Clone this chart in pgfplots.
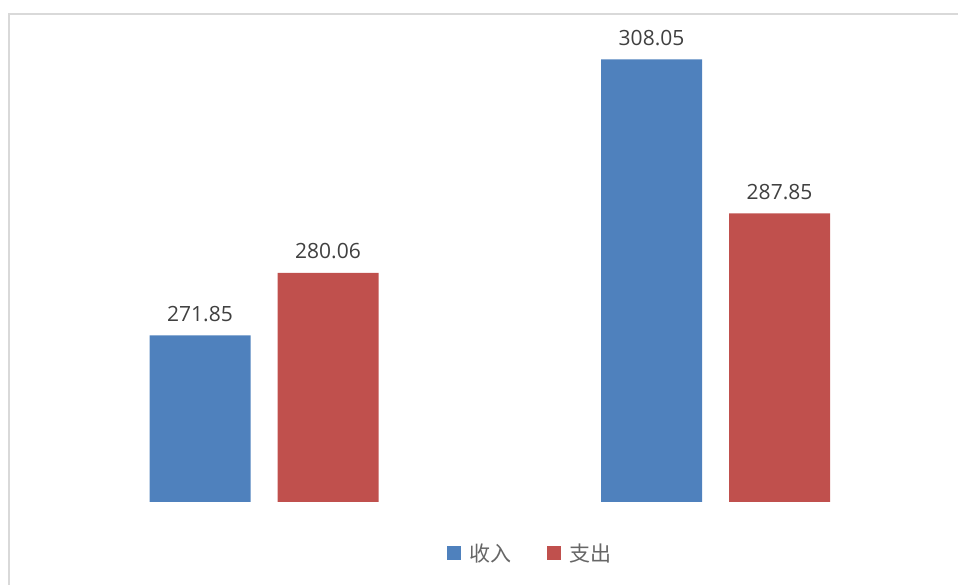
\documentclass[border=0pt]{standalone}
\usepackage{pgfplots}
\pgfplotsset{compat=1.18}
\usepackage{fontspec}
\setmainfont{Open Sans}
\newfontfamily\cjk{Noto Sans CJK SC}
\definecolor{bblue}{HTML}{4F81BD}
\definecolor{bred}{HTML}{C0504D}
\definecolor{lbl}{HTML}{404040}
\definecolor{frame}{HTML}{D9D9D9}
\begin{document}
\begin{tikzpicture}
\useasboundingbox (0pt,0pt) rectangle (958pt,585pt);
\draw[frame, line width=2pt] (9pt,0pt) -- (9pt,571pt) -- (958pt,571pt);
\begin{axis}[
  at={(9pt,83pt)}, anchor=south west,
  scale only axis, width=949pt, height=488pt,
  xmin=-0.5648, xmax=1.537, ymin=250, ymax=314,
  axis lines=none,
  ybar, bar width=101pt,
  clip mode=individual,
  /pgf/number format/assume math mode=true,
  nodes near coords,
  every node near coord/.append style={font=\fontsize{21}{21}\selectfont, text=lbl, yshift=10pt},
  nodes near coords={\pgfmathprintnumber[fixed,fixed zerofill,precision=2]{\pgfplotspointmeta}},
  legend columns=2,
  legend style={draw=none, fill=none, at={(0.549,-0.1045)}, anchor=center,
    font=\cjk\fontsize{21}{21}\selectfont, text=lbl!80,
    /tikz/every odd column/.append style={column sep=6pt},
    /tikz/every even column/.append style={column sep=34pt}},
]
\addplot[fill=bblue, draw=none, bar shift=-64pt,
  legend image code/.code={\fill[bblue] (0pt,-7pt) rectangle (14pt,7pt);}]
  coordinates {(0,271.85) (1,308.05)};
\addplot[fill=bred, draw=none, bar shift=64pt,
  legend image code/.code={\fill[bred] (0pt,-7pt) rectangle (14pt,7pt);}]
  coordinates {(0,280.06) (1,287.85)};
\legend{收入,支出}
\end{axis}
\end{tikzpicture}
\end{document}
